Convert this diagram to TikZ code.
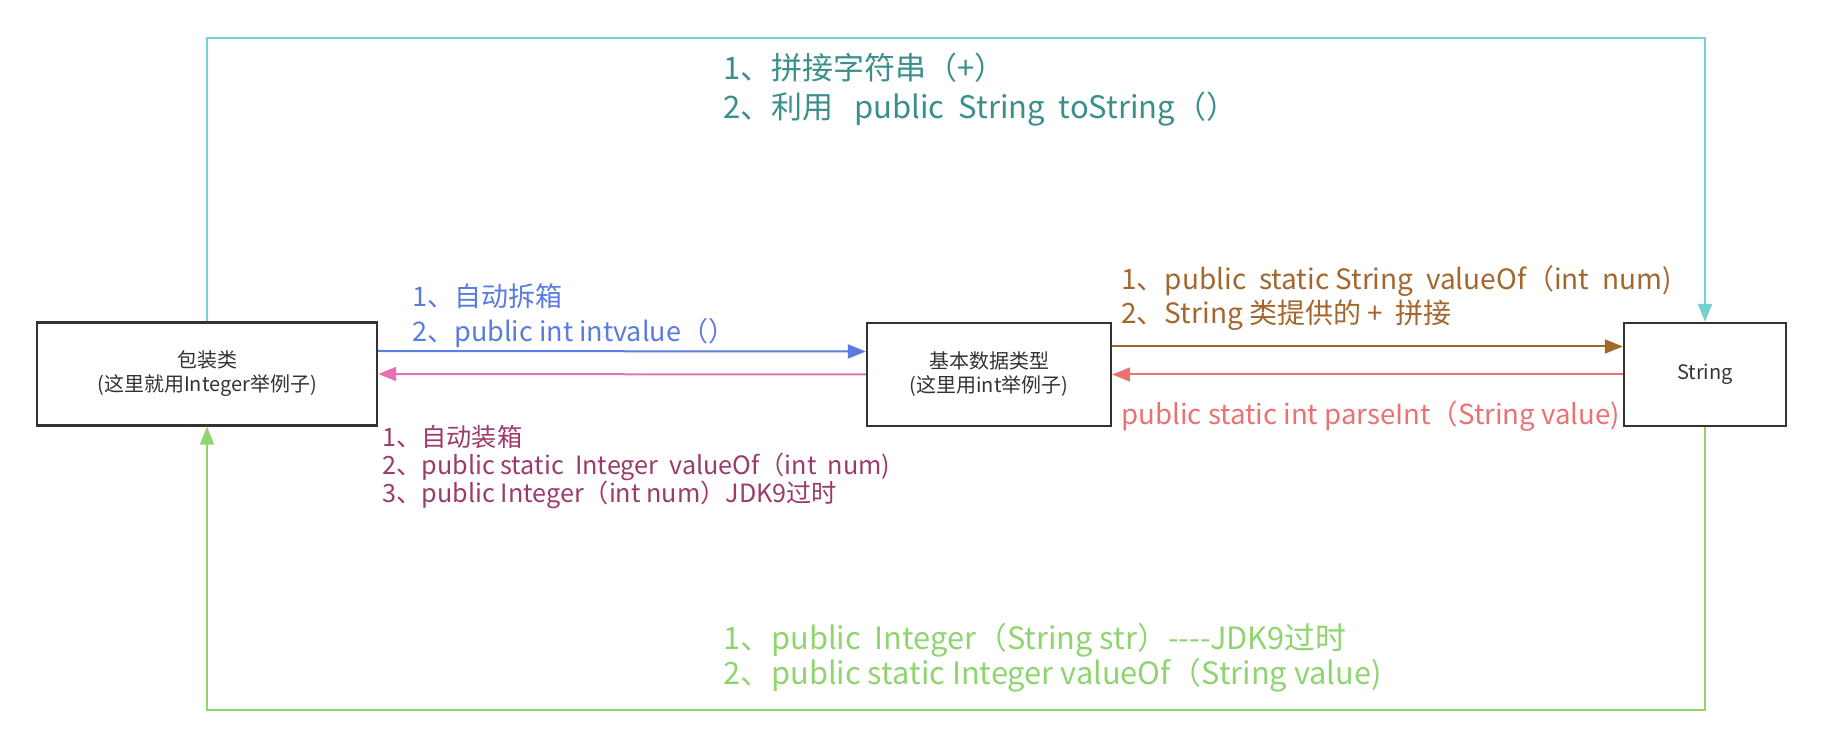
\documentclass[tikz,border=0pt]{standalone}
\usepackage{fontspec}
\setmainfont{Noto Sans CJK SC}
\usetikzlibrary{arrows.meta,positioning}

\begin{document}
\begin{tikzpicture}[
    x=0.5pt, y=-0.5pt,
    >={Triangle[length=9pt,width=7pt]},
    box/.style={
        draw=black!80,
        line width=1.2pt,
        minimum height=51.5pt,
        align=center,
        text=black!80,
        font=\fontsize{10}{12}\selectfont
    },
    lbl/.style={
        anchor=west,
        align=left,
        inner sep=0pt
    },
    link/.style={line width=1pt}
]

% ---------------------------------
% Colors
% ---------------------------------
\definecolor{tealline}{HTML}{72D2CF}
\definecolor{tealtext}{HTML}{3B8F8B}
\definecolor{blueline}{HTML}{5B7BE0}
\definecolor{pinkline}{HTML}{E770B3}
\definecolor{plumtext}{HTML}{9C3B6B}
\definecolor{brownline}{HTML}{A3672E}
\definecolor{redline}{HTML}{EA7272}
\definecolor{greenline}{HTML}{8FD46F}

\useasboundingbox (0,0) rectangle (1822,748);

% ---------------------------------
% Boxes
% ---------------------------------
\node[box, minimum width=170pt] (wrap) at (207,374) {包装类\\(这里就用Integer举例子)};
\node[box, minimum width=122pt] (basic) at (989,374.5) {基本数据类型\\(这里用int举例子)};
\node[box, minimum width=81pt] (str) at (1705,374.5) {String};

\coordinate (railtop) at (207,38);
\coordinate (railbot) at (1705,710);

% ---------------------------------
% Connectors
% ---------------------------------
\draw[link, blueline, ->] ([yshift=11.5pt]wrap.east) -- ([yshift=11.5pt]basic.west);
\draw[link, pinkline, ->] (basic.west) -- (wrap.east);
\draw[link, brownline, ->] ([yshift=14pt]basic.east) -- ([yshift=14pt]str.west);
\draw[link, redline, ->] (str.west) -- (basic.east);
\draw[link, tealline, ->] (wrap.north) -- (railtop) -| (str.north);
\draw[link, greenline, ->] (str.south) -- (railbot) -| (wrap.south);

% ---------------------------------
% Labels
% ---------------------------------
\node[lbl, text=tealtext, font=\fontsize{15.5}{19.5}\selectfont] (tostr) at (723,90)
    {1、拼接字符串（+）\\2、利用\ \ \ public\ \ String\ \ toString（）};
\node[lbl, text=blueline, font=\fontsize{13.5}{17.5}\selectfont] (unbox) at (412,316)
    {1、自动拆箱\\2、public int intvalue（）};
\node[lbl, text=plumtext, font=\fontsize{12.6}{14}\selectfont] (autobox) at (382,467)
    {1、自动装箱\\2、public static\ \ Integer\ \ valueOf（int\ \ num)\\3、public Integer（int num）JDK9过时};
\node[lbl, text=brownline, font=\fontsize{14}{17}\selectfont] (valof) at (1121,298)
    {1、public\ \ static String\ \ valueOf（int\ \ num)\\2、String 类提供的 +\ \ 拼接};
\node[lbl, text=redline, font=\fontsize{13.8}{17}\selectfont] (parse) at (1121,416)
    {public static int parseInt（String value)};
\node[lbl, text=greenline, font=\fontsize{15.4}{17.5}\selectfont] (fromstr) at (723,658)
    {1、public\ \ Integer（String str）-{}-{}-{}-JDK9过时\\2、public static Integer valueOf（String value)};

\end{tikzpicture}
\end{document}
